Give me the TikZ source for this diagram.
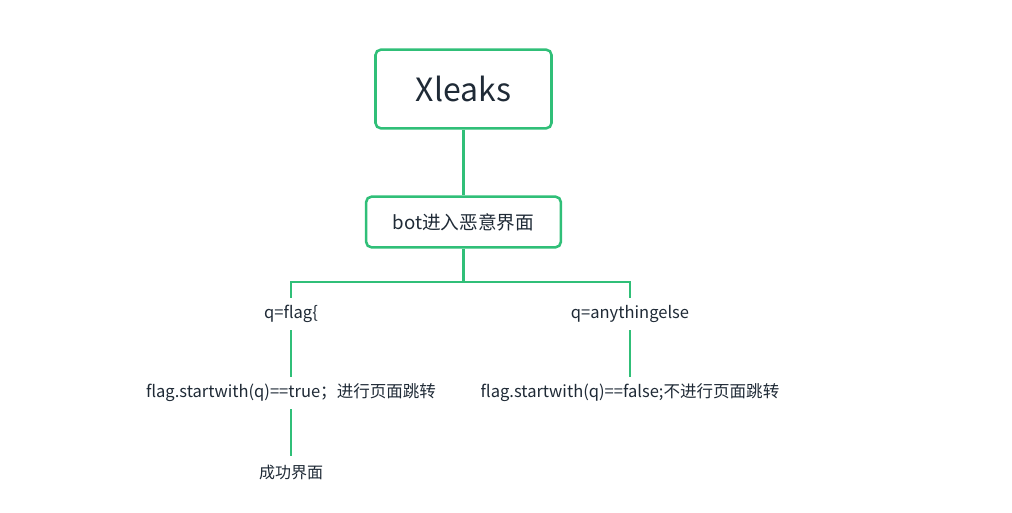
\documentclass[tikz,border=0pt]{standalone}
\usepackage{fontspec}
\setmainfont{Noto Sans CJK SC}
\usetikzlibrary{positioning}
\definecolor{leafgreen}{HTML}{30BF78}
\definecolor{inkdark}{HTML}{1F2A36}

\begin{document}
\begin{tikzpicture}[x=0.75pt,y=-0.75pt,
  box/.style={draw=leafgreen,line width=1.9pt,rounded corners=4pt,text=inkdark,align=center},
  lbl/.style={text=inkdark,inner sep=0pt,minimum height=24pt,font=\fontsize{12.4}{14}\selectfont},
  link/.style={draw=leafgreen,line width=1.9pt}]
\useasboundingbox (0,0) rectangle (1012,513);
\node[box,minimum width=132pt,minimum height=59pt,font=\fontsize{24}{28}\selectfont] (xleaks) at (463.5,89) {Xleaks};
\node[box,minimum width=146pt,minimum height=38pt,font=\fontsize{14}{16}\selectfont] (bot) at (463.5,222) {bot进入恶意界面};
\coordinate (fork) at (463.5,282);
\node[lbl] (qflag) at (291,314) {q=flag\{};
\node[lbl] (qelse) at (630,314) {q=anythingelse};
\node[lbl] (istrue) at (291,393) {flag.startwith(q)==true；进行页面跳转};
\node[lbl] (isfalse) at (630,393) {flag.startwith(q)==false;不进行页面跳转};
\node[lbl,font=\fontsize{12}{14}\selectfont] (done) at (291,472) {成功界面};
\draw[link] (xleaks)--(bot);
\draw[link] (bot)--(fork);
\draw[link] (fork)-|(qflag);
\draw[link] (fork)-|(qelse);
\draw[link] (qflag)--(istrue);
\draw[link] (qelse)--(isfalse);
\draw[link] (istrue)--(done);
\end{tikzpicture}
\end{document}
